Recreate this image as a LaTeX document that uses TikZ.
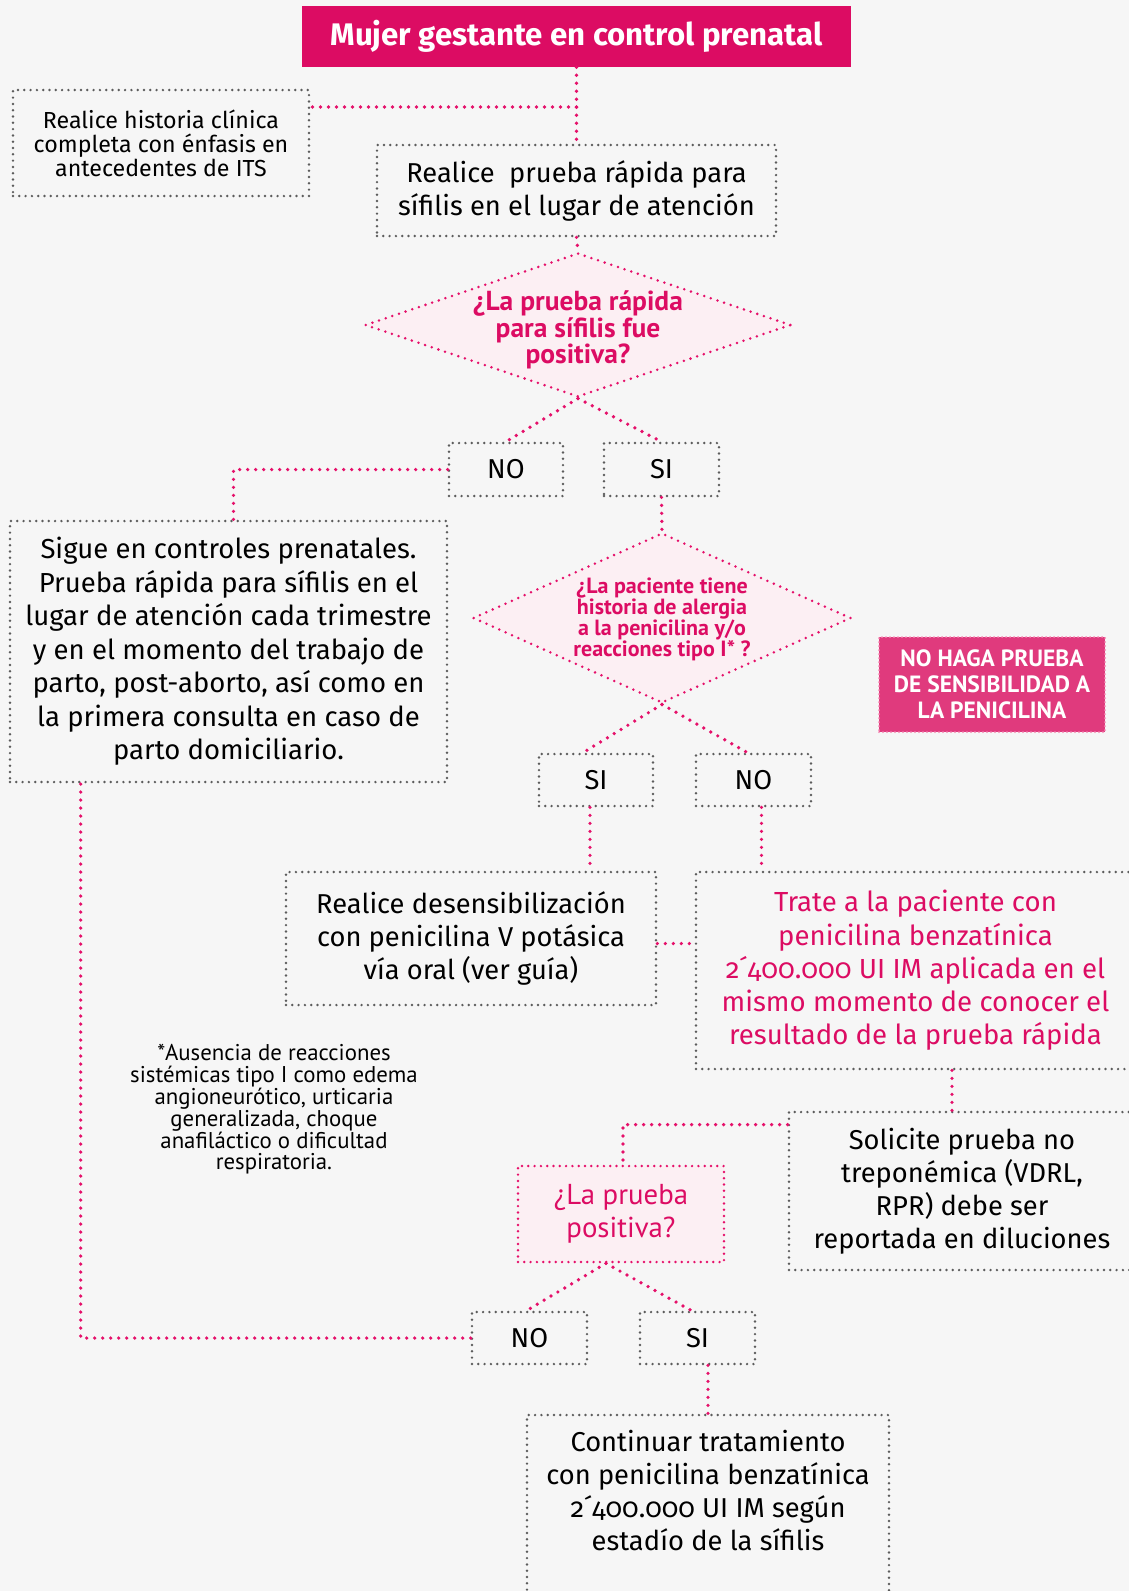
\documentclass[tikz,border=0pt]{standalone}
\usepackage{fontspec}
\setmainfont{Fira Sans}[Numbers=OldStyle]
\newfontfamily\ptfont{PT Sans}
\usetikzlibrary{shapes.geometric,calc}
\definecolor{fucsia}{HTML}{DC0C63}
\definecolor{rosa}{HTML}{E5106A}
\definecolor{rosafondo}{HTML}{FCEFF3}
\definecolor{rosacaja}{HTML}{E03A7D}
\definecolor{rosaborde}{HTML}{F58AB4}
\definecolor{gris}{HTML}{5C5C5C}
\definecolor{fondo}{HTML}{F6F6F6}

\begin{document}
\begin{tikzpicture}[x=1pt,y=-1pt,
	caja/.style={draw=gris, line width=2.7pt, dash pattern=on 0pt off 6.3pt, line cap=round, align=center, inner sep=0pt, font=\fontsize{27.3}{33}\selectfont},
	rombo/.style={diamond, draw=rosa, fill=rosafondo, line width=2.8pt, dash pattern=on 0pt off 7pt, line cap=round, inner sep=0pt},
	pregunta/.style={align=center, text=fucsia, inner sep=0pt},
	enlace/.style={draw=rosa, line width=3.7pt, dash pattern=on 0pt off 8pt, line cap=round}]
	\useasboundingbox (0,0) rectangle (1129,1591);
	\clip (0,0) rectangle (1129,1591);
	\fill[fondo] (0,0) rectangle (1129,1591);

	\node[fill=fucsia, minimum width=549pt, minimum height=61pt, inner sep=0pt, text=white, font=\bfseries\fontsize{31.2}{36}\selectfont] (title) at (576.5,36.5) {Mujer gestante en control prenatal};
	\node[caja, minimum width=296pt, minimum height=106pt, font=\fontsize{23.2}{24}\selectfont] (hist) at (161,143) {Realice historia clínica\\completa con énfasis en\\antecedentes de ITS};
	\node[caja, minimum width=399pt, minimum height=91pt] (rapida) at (576.5,190.5) {Realice\ \ prueba rápida para\\sífilis en el lugar de atención};

	\node[rombo, minimum width=426pt, minimum height=144pt] (dia1) at (578,325) {};
	\node[pregunta, font=\ptfont\bfseries\fontsize{27.5}{24}\selectfont] (dia1-t) at ([yshift=-5pt]dia1.center) {¿La prueba rápida\\para sífilis fue\\positiva?};

	\node[caja, minimum width=114pt, minimum height=53pt] (no1) at (506,469.5) {NO};
	\node[caja, minimum width=115pt, minimum height=53pt] (si1) at (661.5,469.5) {SI};

	\node[caja, minimum width=437pt, minimum height=261pt, font=\fontsize{27.5}{33.5}\selectfont] (sigue) at (228.5,651.5) {Sigue en controles prenatales.\\Prueba rápida para sífilis en el\\lugar de atención cada trimestre\\y en el momento del trabajo de\\parto, post-aborto, así como en\\la primera consulta en caso de\\parto domiciliario.};

	\node[rombo, minimum width=378pt, minimum height=170pt] (dia2) at (662,618) {};
	\node[pregunta, font=\ptfont\bfseries\fontsize{22}{21}\selectfont] (dia2-t) at ([yshift=-1.5pt]dia2.center) {¿La paciente tiene\\historia de alergia\\a la penicilina y/o\\reacciones tipo I* ?};

	\node[caja, minimum width=114pt, minimum height=52pt] (si2) at (596,780) {SI};
	\node[caja, minimum width=115pt, minimum height=52pt] (no2) at (753.5,780) {NO};

	\node[fill=rosacaja, draw=rosaborde, line width=2pt, dash pattern=on 0pt off 4pt, line cap=round, minimum width=226pt, minimum height=95pt, inner sep=0pt, align=center, text=white, font=\ptfont\bfseries\fontsize{23.5}{26}\selectfont] (nohaga) at (992,684.5) {NO HAGA PRUEBA\\DE SENSIBILIDAD A\\LA PENICILINA};

	\node[caja, minimum width=370pt, minimum height=133pt] (desens) at (471,938.5) {Realice desensibilización\\con penicilina V potásica\\vía oral (ver guía)};
	\node[caja, minimum width=439pt, minimum height=197pt, text=fucsia, font=\fontsize{27.6}{33.2}\selectfont] (trate) at (915.5,970.5) {Trate a la paciente con\\penicilina benzatínica\\2´400.000 UI IM aplicada en el\\mismo momento de conocer el\\resultado de la prueba rápida};

	\node[align=center, inner sep=0pt, font=\ptfont\fontsize{22.8}{21.8}\selectfont] (nota) at (274,1109.5) {*Ausencia de reacciones\\sistémicas tipo I como edema\\angioneurótico, urticaria\\generalizada, choque\\anafiláctico o dificultad\\respiratoria.};

	\node[caja, minimum width=346pt, minimum height=158pt] (solicite) at (962,1191) {Solicite prueba no\\treponémica (VDRL,\\RPR) debe ser\\reportada en diluciones};
	\node[caja, draw=rosa, fill=rosafondo, text=fucsia, line width=2.7pt, minimum width=206pt, minimum height=96pt, font=\ptfont\fontsize{28.8}{33}\selectfont] (prueba2) at (621,1214) {¿La prueba\\positiva?};

	\node[caja, minimum width=115pt, minimum height=52pt] (no3) at (529.5,1338) {NO};
	\node[caja, minimum width=115pt, minimum height=52pt] (si3) at (697.5,1338) {SI};

	\node[caja, minimum width=362pt, minimum height=185pt] (cont) at (708,1507.5) {};
	\node[align=center, inner sep=0pt, font=\fontsize{27.3}{33}\selectfont] (cont-t) at (708,1490.5) {Continuar tratamiento\\con penicilina benzatínica\\2´400.000 UI IM según\\estadío de la sífilis};

	\coordinate (j1) at ($(title.south)!0.52!(rapida.north)$);
	\draw[enlace] (title.south) -- (rapida.north);
	\draw[enlace] (j1) -- (j1 -| hist.east);
	\draw[enlace] (rapida.south) -- (dia1.north);
	\draw[enlace] (dia1.south) -- (no1.north);
	\draw[enlace] (dia1.south) -- (si1.north);
	\draw[enlace] (no1.west) -| ([xshift=5pt]sigue.north);
	\draw[enlace] (si1.south) -- (dia2.north);
	\draw[enlace] (dia2.south) -- ([xshift=-13pt]si2.north);
	\draw[enlace] (dia2.south) -- ([xshift=-6pt]no2.north);
	\draw[enlace] ([xshift=-6pt]si2.south) -- ([xshift=-6pt]si2.south |- desens.north);
	\draw[enlace] ([xshift=8pt]no2.south) -- ([xshift=8pt]no2.south |- trate.north);
	\draw[enlace] ([yshift=-5pt]desens.east) -- ([yshift=-5pt]desens.east -| trate.west);
	\draw[enlace] ([xshift=-10pt]solicite.north |- trate.south) -- ([xshift=-10pt]solicite.north);
	\draw[enlace] ([yshift=-14pt]solicite.north west) -| ([xshift=2pt]prueba2.north);
	\draw[enlace] ([xshift=-15pt]prueba2.south) -- ([xshift=-3pt]no3.north);
	\draw[enlace] ([xshift=-15pt]prueba2.south) -- ([xshift=-6pt]si3.north);
	\draw[enlace] (no3.west) -| ([xshift=72pt]sigue.south west);
	\draw[enlace] (cont.north |- si3.south) -- (cont.north);
\end{tikzpicture}
\end{document}
